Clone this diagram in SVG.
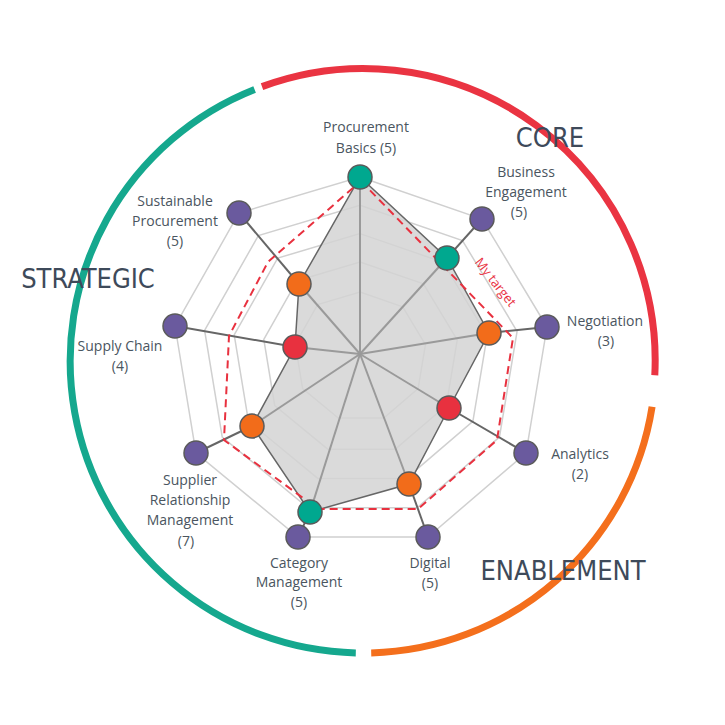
<svg xmlns="http://www.w3.org/2000/svg" xmlns:xlink="http://www.w3.org/1999/xlink" width="725" height="725" viewBox="0 0 725 725">
<style>
.ring{fill:none;stroke:#d0d0d0;stroke-width:1.5}
.lbl{font-family:"Open Sans","Liberation Sans",sans-serif;font-size:14px;fill:#4a5560;text-anchor:middle}
.cat{font-family:"DejaVu Sans Condensed","Roboto",sans-serif;font-size:27px;fill:#3e4a5a}
.spoke{stroke:#9a9a9a;stroke-width:2}
.lead{stroke:#666;stroke-width:2}
.n{stroke:#5a5a5a;stroke-width:1.5}
.p{fill:#6a5a9e}.t{fill:#00a88f}.o{fill:#f26c1a}.r{fill:#e8313f}
.arc{fill:none;stroke-width:7}
</style>
<defs>
<polygon id="ring" points="360,177 482,219 547,327 526,453 428,537 298,537 196,453 175,326 239,213"/>
</defs>
<g id="frame">
<path class="arc" stroke="#ea3442" d="M 262.0 86.6 A 292 292 0 0 1 654.8 375.3"/>
<path class="arc" stroke="#f46f1c" d="M 652.1 406.7 A 292 292 0 0 1 371.2 652.9"/>
<path class="arc" stroke="#15a88e" d="M 355.8 652.9 A 292 292 0 0 1 254.6 89.5"/>
<text class="cat" x="550" y="147" text-anchor="middle">CORE</text>
<text class="cat" x="88" y="288" text-anchor="middle">STRATEGIC</text>
<text class="cat" x="563" y="580" text-anchor="middle">ENABLEMENT</text>
</g>
<g id="grid">
<use xlink:href="#ring" class="ring"/>
<use xlink:href="#ring" class="ring" transform="translate(360 354) scale(0.84) translate(-360 -354)" style="stroke-width:1.8"/>
<use xlink:href="#ring" class="ring" transform="translate(360 354) scale(0.68) translate(-360 -354)" style="stroke-width:2.2"/>
<use xlink:href="#ring" class="ring" transform="translate(360 354) scale(0.52) translate(-360 -354)" style="stroke-width:2.9"/>
<use xlink:href="#ring" class="ring" transform="translate(360 354) scale(0.35) translate(-360 -354)" style="stroke-width:4.3"/>
</g>
<polygon id="score" points="360,177 447,258 489,333 449,408 409,484 310,512 252,426 295,347 299,284" fill="#d3d3d3" fill-opacity="0.85" stroke="#666" stroke-width="1.5"/>
<g id="connectors">
<line class="spoke" x1="360" y1="354" x2="360" y2="177"/>
<line class="spoke" x1="360" y1="354" x2="447" y2="258"/>
<line class="spoke" x1="360" y1="354" x2="489" y2="333"/>
<line class="spoke" x1="360" y1="354" x2="449" y2="408"/>
<line class="spoke" x1="360" y1="354" x2="409" y2="484"/>
<line class="spoke" x1="360" y1="354" x2="310" y2="512"/>
<line class="spoke" x1="360" y1="354" x2="252" y2="426"/>
<line class="spoke" x1="360" y1="354" x2="295" y2="347"/>
<line class="spoke" x1="360" y1="354" x2="299" y2="284"/>
<line class="lead" x1="447" y1="258" x2="482" y2="219"/>
<line class="lead" x1="489" y1="333" x2="547" y2="327"/>
<line class="lead" x1="449" y1="408" x2="526" y2="453"/>
<line class="lead" x1="409" y1="484" x2="428" y2="537"/>
<line class="lead" x1="310" y1="512" x2="298" y2="537"/>
<line class="lead" x1="252" y1="426" x2="196" y2="453"/>
<line class="lead" x1="295" y1="347" x2="175" y2="326"/>
<line class="lead" x1="299" y1="284" x2="239" y2="213"/>
</g>
<g id="target">
<polygon points="361,181 513,338 497,440 418,509 318,509 224,440 229,336 268,262" fill="none" stroke="#e8313f" stroke-width="2" stroke-dasharray="8,5"/>
<text x="492" y="285" transform="rotate(52 492 285)" font-family="Open Sans, Liberation Sans, sans-serif" font-size="13" fill="#e8313f" text-anchor="middle">My target</text>
</g>
<g id="outer-nodes">
<circle class="n p" cx="482" cy="219" r="12"/>
<circle class="n p" cx="547" cy="327" r="12"/>
<circle class="n p" cx="526" cy="453" r="12"/>
<circle class="n p" cx="428" cy="537" r="12"/>
<circle class="n p" cx="298" cy="537" r="12"/>
<circle class="n p" cx="196" cy="453" r="12"/>
<circle class="n p" cx="175" cy="326" r="12"/>
<circle class="n p" cx="239" cy="213" r="12"/>
</g>
<g id="score-nodes">
<circle class="n t" cx="360" cy="177" r="12"/>
<circle class="n t" cx="447" cy="258" r="12"/>
<circle class="n o" cx="489" cy="333" r="12"/>
<circle class="n r" cx="449" cy="408" r="12"/>
<circle class="n o" cx="409" cy="484" r="12"/>
<circle class="n t" cx="310" cy="512" r="12"/>
<circle class="n o" cx="252" cy="426" r="12"/>
<circle class="n r" cx="295" cy="347" r="12"/>
<circle class="n o" cx="299" cy="284" r="12"/>
</g>
<g id="labels">
<g id="l-basics"><text class="lbl" x="366" y="132">Procurement</text><text class="lbl" x="366" y="153">Basics (5)</text></g>
<g id="l-engagement"><text class="lbl" x="526" y="177">Business</text><text class="lbl" x="526" y="197">Engagement</text><text class="lbl" x="519" y="217">(5)</text></g>
<g id="l-negotiation"><text class="lbl" x="605" y="326">Negotiation</text><text class="lbl" x="606" y="346">(3)</text></g>
<g id="l-analytics"><text class="lbl" x="580" y="459">Analytics</text><text class="lbl" x="580" y="479">(2)</text></g>
<g id="l-digital"><text class="lbl" x="430" y="568">Digital</text><text class="lbl" x="430" y="588">(5)</text></g>
<g id="l-category"><text class="lbl" x="299" y="568">Category</text><text class="lbl" x="299" y="587">Management</text><text class="lbl" x="299" y="607">(5)</text></g>
<g id="l-srm"><text class="lbl" x="190" y="485">Supplier</text><text class="lbl" x="190" y="505">Relationship</text><text class="lbl" x="190" y="525">Management</text><text class="lbl" x="186" y="546">(7)</text></g>
<g id="l-supply"><text class="lbl" x="120" y="351">Supply Chain</text><text class="lbl" x="120" y="371">(4)</text></g>
<g id="l-sustainable"><text class="lbl" x="175" y="206">Sustainable</text><text class="lbl" x="175" y="226">Procurement</text><text class="lbl" x="175" y="246">(5)</text></g>
</g>
</svg>
